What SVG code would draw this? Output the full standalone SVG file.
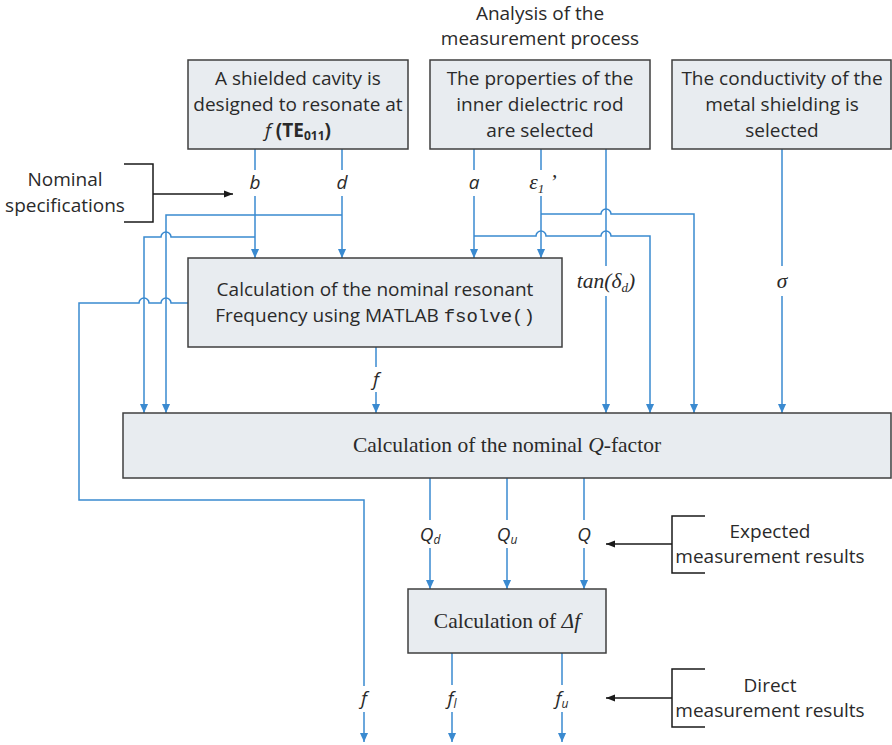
<svg xmlns="http://www.w3.org/2000/svg" width="892" height="745" viewBox="0 0 892 745">
<defs>
<style>
.box{fill:#e8ecf0;stroke:#3f3f3f;stroke-width:1.5}
.t{font-family:"Open Sans","Noto Sans","Liberation Sans",sans-serif;font-size:19px;fill:#2a2a2a;text-anchor:middle}
.s{font-family:"Liberation Serif","Times New Roman",serif;font-size:21.5px;fill:#2a2a2a;text-anchor:middle}
.i{font-style:italic}
.m{font-family:"Liberation Mono","DejaVu Sans Mono",monospace}
.c{fill:none;stroke:#3a8ad0;stroke-width:1.5}
.k{fill:none;stroke:#1a1a1a;stroke-width:1.5}
</style>
<marker id="ab" viewBox="0 0 10 10" refX="10" refY="5" markerWidth="10" markerHeight="9" markerUnits="userSpaceOnUse" orient="auto">
<path d="M0,0.5 L10,5 L0,9.5 z" fill="#3a8ad0"/>
</marker>
<marker id="ak" viewBox="0 0 10 10" refX="10" refY="5" markerWidth="11" markerHeight="9" markerUnits="userSpaceOnUse" orient="auto">
<path d="M0,1 L10,5 L0,9 z" fill="#1a1a1a"/>
</marker>
</defs>

<g id="title">
<text class="t" x="540" y="20">Analysis of the</text>
<text class="t" x="540" y="45">measurement process</text>
</g>

<g id="connectors">
<!-- b -->
<path class="c" d="M255,149 V170"/>
<path class="c" d="M255,196 V258" marker-end="url(#ab)"/>
<path class="c" d="M255,237 H171 A5,5 0 0 0 161,237 H144 V413" marker-end="url(#ab)"/>
<!-- d -->
<path class="c" d="M342,149 V170"/>
<path class="c" d="M342,196 V258" marker-end="url(#ab)"/>
<path class="c" d="M342,215 H166 V413" marker-end="url(#ab)"/>
<!-- a -->
<path class="c" d="M474,149 V170"/>
<path class="c" d="M474,196 V258" marker-end="url(#ab)"/>
<path class="c" d="M474,236 H536 A5,5 0 0 1 546,236 H601 A5,5 0 0 1 611,236 H650 V413" marker-end="url(#ab)"/>
<!-- epsilon -->
<path class="c" d="M541,149 V170"/>
<path class="c" d="M541,196 V258" marker-end="url(#ab)"/>
<path class="c" d="M541,214 H601 A5,5 0 0 1 611,214 H694 V413" marker-end="url(#ab)"/>
<!-- tan -->
<path class="c" d="M606,149 V266"/>
<path class="c" d="M606,296 V413" marker-end="url(#ab)"/>
<!-- sigma -->
<path class="c" d="M782,149 V266"/>
<path class="c" d="M782,296 V413" marker-end="url(#ab)"/>
<!-- f from calc box -->
<path class="c" d="M376,347 V367"/>
<path class="c" d="M376,392 V413" marker-end="url(#ab)"/>
<!-- f loop -->
<path class="c" d="M188,303 H171 A5,5 0 0 0 161,303 H149 A5,5 0 0 0 139,303 H79 V500 H364 V686"/>
<path class="c" d="M364,712 V742" marker-end="url(#ab)"/>
<!-- Q outputs -->
<path class="c" d="M430,478 V520"/>
<path class="c" d="M430,548 V589" marker-end="url(#ab)"/>
<path class="c" d="M507,478 V520"/>
<path class="c" d="M507,548 V589" marker-end="url(#ab)"/>
<path class="c" d="M584,478 V520"/>
<path class="c" d="M584,548 V589" marker-end="url(#ab)"/>
<!-- f outputs -->
<path class="c" d="M452,653 V685"/>
<path class="c" d="M452,712 V742" marker-end="url(#ab)"/>
<path class="c" d="M562,653 V685"/>
<path class="c" d="M562,712 V742" marker-end="url(#ab)"/>
<!-- brackets -->
<path class="k" d="M124,164 H153 V222 H124"/>
<path class="k" d="M153,194 H233" marker-end="url(#ak)"/>
<path class="k" d="M705,516 H672 V573 H705"/>
<path class="k" d="M672,544 H606" marker-end="url(#ak)"/>
<path class="k" d="M705,669 H672 V727 H705"/>
<path class="k" d="M672,698 H606" marker-end="url(#ak)"/>
</g>

<g id="labels">
<text class="t i" x="255" y="189">b</text>
<text class="t i" x="342" y="189">d</text>
<text class="t i" x="474" y="189">a</text>
<text class="s i" x="543" y="189" font-size="20">ε<tspan font-size="13" dy="4">1</tspan><tspan dy="-4"> ’</tspan></text>
<text class="s i" x="606" y="288" font-size="20">tan(δ<tspan font-size="13" dy="4">d</tspan><tspan dy="-4">)</tspan></text>
<text class="s i" x="782" y="288" font-size="20">σ</text>
<text class="t i" x="376" y="386">f</text>
<text class="t i" x="430" y="541">Q<tspan font-size="12" dy="3">d</tspan></text>
<text class="t i" x="507" y="541">Q<tspan font-size="12" dy="3">u</tspan></text>
<text class="t i" x="584" y="541">Q</text>
<text class="t i" x="364" y="705">f</text>
<text class="t i" x="452" y="705">f<tspan font-size="12" dy="3">l</tspan></text>
<text class="t i" x="562" y="705">f<tspan font-size="12" dy="3">u</tspan></text>
<text class="t" x="65" y="186">Nominal</text>
<text class="t" x="65" y="212">specifications</text>
<text class="t" x="770" y="538">Expected</text>
<text class="t" x="770" y="563">measurement results</text>
<text class="t" x="770" y="692">Direct</text>
<text class="t" x="770" y="717">measurement results</text>
</g>

<g id="node-cavity">
<rect class="box" x="188" y="60" width="220" height="89"/>
<text class="t" x="298" y="85">A shielded cavity is</text>
<text class="t" x="298" y="111">designed to resonate at</text>
<text class="t" x="298" y="137"><tspan class="i">f</tspan> <tspan font-weight="bold">(TE<tspan font-size="12" dy="3">011</tspan><tspan dy="-3">)</tspan></tspan></text>
</g>

<g id="node-dielectric">
<rect class="box" x="430" y="60" width="220" height="89"/>
<text class="t" x="540" y="85">The properties of the</text>
<text class="t" x="540" y="111">inner dielectric rod</text>
<text class="t" x="540" y="137">are selected</text>
</g>

<g id="node-conductivity">
<rect class="box" x="672" y="60" width="219" height="89"/>
<text class="t" x="782" y="85">The conductivity of the</text>
<text class="t" x="782" y="111">metal shielding is</text>
<text class="t" x="782" y="137">selected</text>
</g>

<g id="node-frequency">
<rect class="box" x="188" y="258" width="374" height="89"/>
<text class="t" x="375" y="296">Calculation of the nominal resonant</text>
<text class="t" x="375" y="322">Frequency using MATLAB <tspan class="m">fsolve()</tspan></text>
</g>

<g id="node-qfactor">
<rect class="box" x="123" y="413" width="768" height="65"/>
<text class="s" x="507" y="452">Calculation of the nominal <tspan class="i">Q</tspan>-factor</text>
</g>

<g id="node-deltaf">
<rect class="box" x="408" y="589" width="198" height="64"/>
<text class="s" x="507" y="628">Calculation of <tspan class="i">Δf</tspan></text>
</g>
</svg>
